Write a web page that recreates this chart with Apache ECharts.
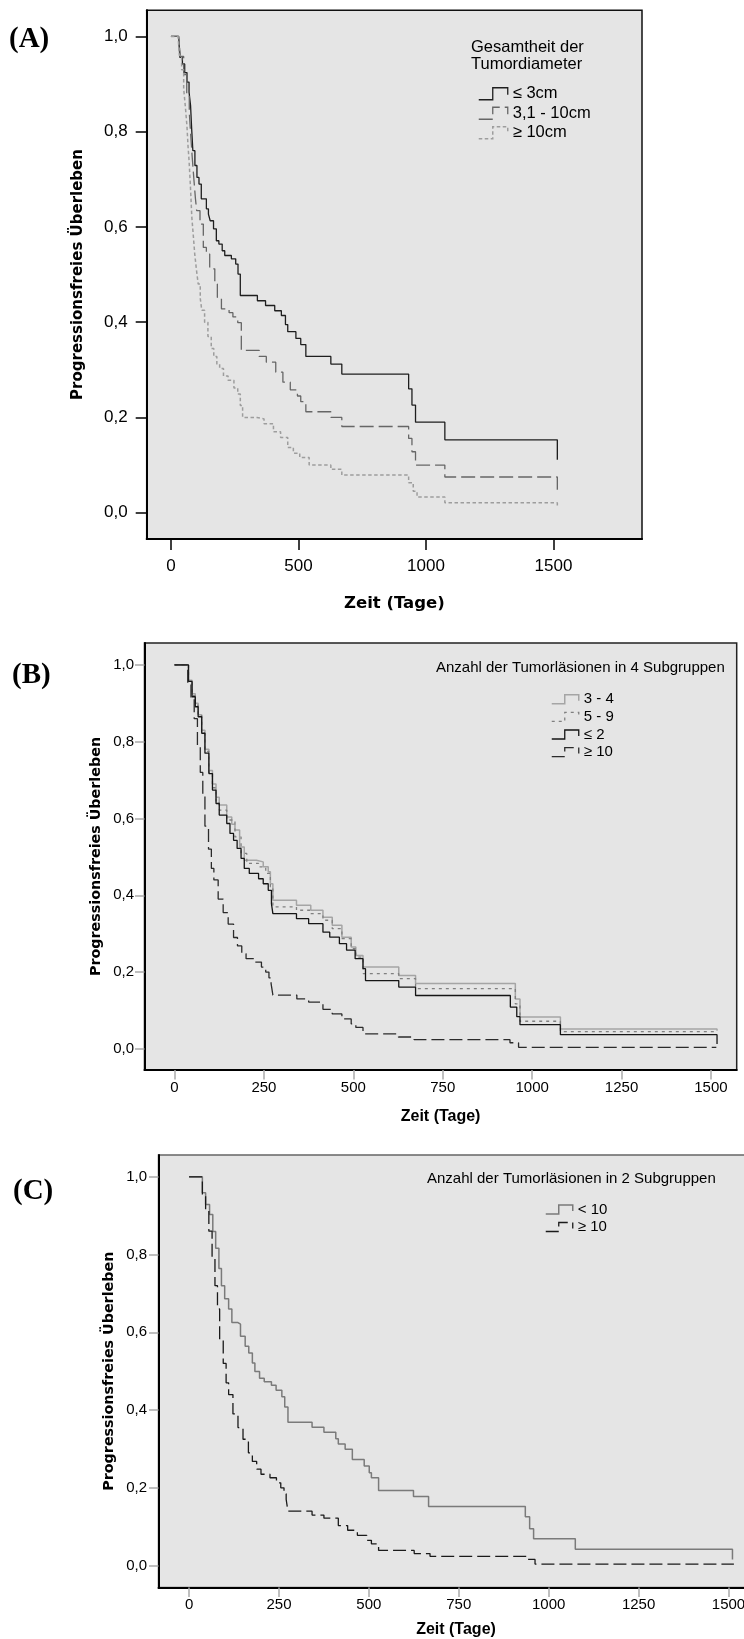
<!DOCTYPE html>
<html>
<head>
<meta charset="utf-8">
<script src="https://cdn.jsdelivr.net/npm/echarts@6/dist/echarts.min.js"></script>
<style>
  html, body { margin: 0; padding: 0; background: #fff; }
  #wrap { position: relative; width: 744px; height: 1639px; }
  .panel { position: absolute; left: 0; width: 744px; }
</style>
</head>
<body>
<div id="wrap">
  <div id="panel-a" class="panel" style="top:0;height:615px"></div>
  <div id="panel-b" class="panel" style="top:615px;height:515px"></div>
  <div id="panel-c" class="panel" style="top:1130px;height:509px"></div>
</div>
<script>
// tick values
const tageTicksGrob = [0, 500, 1000, 1500]
const tageTicksFein = [0, 250, 500, 750, 1000, 1250, 1500]
const survTicks = [0, 0.2, 0.4, 0.6, 0.8, 1.0]

// (A) Gesamtheit der Tumordiameter: [Tage, Überleben]
const diamBis3 = [[0, 1], [30, 1], [35, 0.956], [45, 0.942], [54, 0.924], [63, 0.904], [71, 0.883], [77, 0.855],
  [81, 0.809], [86, 0.76], [94, 0.729], [102, 0.704], [110, 0.69], [119, 0.659], [139, 0.638], [147, 0.627],
  [154, 0.613], [167, 0.596], [178, 0.571], [188, 0.564], [201, 0.55], [211, 0.54], [237, 0.533], [254, 0.522],
  [263, 0.501], [272, 0.456], [339, 0.445], [371, 0.435], [407, 0.424], [433, 0.414], [449, 0.395], [458, 0.38],
  [490, 0.366], [509, 0.353], [529, 0.328], [627, 0.312], [670, 0.291], [932, 0.26], [945, 0.226], [959, 0.19],
  [1074, 0.153], [1515, 0.111]]
const diam3bis10 = [[0, 1], [30, 1], [37, 0.958], [50, 0.92], [62, 0.88], [72, 0.84], [78, 0.79], [83, 0.75],
  [90, 0.7], [96, 0.66], [101, 0.634], [114, 0.606], [127, 0.557], [139, 0.543], [152, 0.512], [172, 0.48],
  [182, 0.452], [198, 0.428], [228, 0.42], [243, 0.411], [262, 0.399], [276, 0.341], [346, 0.328], [374, 0.316],
  [411, 0.295], [439, 0.274], [468, 0.258], [496, 0.245], [509, 0.233], [529, 0.212], [627, 0.2], [670, 0.181],
  [932, 0.156], [945, 0.128], [959, 0.1], [1074, 0.075], [1515, 0.047]]
const diamAb10 = [[0, 1], [28, 1], [33, 0.96], [42, 0.93], [50, 0.89], [57, 0.85], [63, 0.81], [67, 0.77],
  [71, 0.74], [76, 0.69], [82, 0.62], [88, 0.58], [93, 0.545], [100, 0.51], [107, 0.48], [115, 0.45],
  [121, 0.425], [132, 0.4], [145, 0.37], [158, 0.345], [168, 0.328], [180, 0.312], [191, 0.303], [206, 0.287],
  [224, 0.278], [247, 0.262], [262, 0.249], [272, 0.225], [281, 0.2], [337, 0.197], [365, 0.187], [402, 0.17],
  [430, 0.158], [458, 0.137], [480, 0.125], [505, 0.116], [542, 0.1], [627, 0.091], [670, 0.079], [932, 0.063],
  [950, 0.045], [965, 0.033], [1074, 0.021], [1515, 0.013]]

// (B) / (C) Anzahl der Tumorläsionen
const lasion3bis4 = [[0, 1], [28, 1], [39, 0.96], [49, 0.925], [58, 0.9], [66, 0.87], [76, 0.83], [85, 0.78],
  [96, 0.725], [106, 0.69], [116, 0.655], [125, 0.635], [146, 0.604], [160, 0.585], [169, 0.57], [182, 0.526],
  [195, 0.491], [229, 0.487], [248, 0.474], [262, 0.461], [268, 0.43], [275, 0.387], [341, 0.374], [381, 0.361],
  [415, 0.343], [441, 0.322], [468, 0.291], [494, 0.265], [507, 0.243], [527, 0.213], [627, 0.191], [674, 0.17],
  [953, 0.13], [966, 0.083], [1079, 0.052], [1517, 0.047]]
const lasion5bis9 = [[0, 1], [28, 1], [39, 0.955], [49, 0.92], [58, 0.895], [66, 0.868], [76, 0.826], [85, 0.775],
  [96, 0.72], [106, 0.68], [116, 0.645], [125, 0.622], [146, 0.596], [169, 0.552], [186, 0.509], [202, 0.483],
  [235, 0.474], [255, 0.457], [268, 0.422], [275, 0.37], [341, 0.361], [381, 0.352], [415, 0.335], [441, 0.313],
  [468, 0.287], [494, 0.261], [507, 0.239], [527, 0.196], [627, 0.183], [674, 0.157], [953, 0.117], [966, 0.072],
  [1079, 0.045], [1517, 0.044]]
const lasionBis2 = [[0, 1], [28, 1], [39, 0.957], [49, 0.917], [58, 0.891], [66, 0.865], [76, 0.822], [85, 0.77],
  [96, 0.717], [106, 0.674], [116, 0.639], [125, 0.609], [146, 0.587], [155, 0.561], [165, 0.543], [175, 0.522],
  [186, 0.496], [195, 0.47], [209, 0.457], [235, 0.443], [248, 0.43], [262, 0.413], [271, 0.378], [275, 0.352],
  [341, 0.339], [375, 0.326], [415, 0.304], [434, 0.291], [461, 0.274], [481, 0.257], [505, 0.235], [527, 0.209],
  [534, 0.178], [627, 0.161], [674, 0.139], [939, 0.109], [957, 0.084], [966, 0.063], [1079, 0.037], [1517, 0.013]]
const lasionAb10 = [[0, 1], [30, 1], [37, 0.95], [46, 0.915], [55, 0.86], [64, 0.79], [72, 0.72], [79, 0.66],
  [85, 0.58], [95, 0.52], [103, 0.47], [110, 0.44], [122, 0.39], [136, 0.355], [150, 0.325], [165, 0.29],
  [176, 0.268], [188, 0.248], [200, 0.235], [225, 0.226], [243, 0.213], [255, 0.2], [264, 0.185], [270, 0.17],
  [275, 0.14], [342, 0.13], [375, 0.122], [415, 0.103], [441, 0.091], [468, 0.078], [494, 0.065], [507, 0.056],
  [527, 0.039], [626, 0.031], [670, 0.024], [938, 0.016], [962, 0.004], [1515, 0.003]]
const lasionUnter10 = [[0, 1], [30, 1], [37, 0.959], [46, 0.929], [57, 0.903], [66, 0.859], [74, 0.816], [83, 0.764],
  [90, 0.72], [99, 0.686], [110, 0.66], [119, 0.625], [136, 0.621], [143, 0.59], [156, 0.564], [166, 0.547],
  [176, 0.521], [183, 0.499], [196, 0.482], [209, 0.473], [229, 0.464], [242, 0.451], [258, 0.434], [266, 0.408],
  [275, 0.369], [342, 0.356], [375, 0.343], [408, 0.326], [415, 0.313], [434, 0.299], [454, 0.273], [487, 0.256],
  [501, 0.239], [507, 0.226], [527, 0.193], [624, 0.178], [666, 0.152], [935, 0.126], [947, 0.095], [958, 0.069],
  [1074, 0.042], [1511, 0.016]]

const SANS = 'Liberation Sans'
const BOLD = 'DejaVu Sans'

function drawPanel(id, p) {
  const chart = echarts.init(document.getElementById(id))
  chart.setOption({
    animation: false,
    grid: {
      left: p.grid[0], top: p.grid[1], right: p.grid[2], bottom: p.grid[3],
      show: true,
      backgroundColor: '#e5e5e5',
      borderColor: p.borderColor,
      borderWidth: 1.5,
      outerBoundsMode: 'none',
    },
    xAxis: {
      type: 'value',
      min: p.xRange[0],
      max: p.xRange[1],
      axisLine: { show: true, onZero: false, lineStyle: { color: '#000', width: 2 } },
      axisTick: { show: true, customValues: p.xTicks, length: p.tickLen, lineStyle: { color: p.tickColor, width: 1.5 } },
      axisLabel: {
        customValues: p.xTicks,
        margin: p.xMargin,
        fontSize: p.labelSize,
        fontFamily: SANS,
        color: '#000',
        formatter: (v) => String(v),
      },
      splitLine: { show: false },
    },
    yAxis: {
      type: 'value',
      min: p.yRange[0],
      max: p.yRange[1],
      axisLine: { show: true, onZero: false, lineStyle: { color: '#000', width: 2 } },
      axisTick: { show: true, customValues: survTicks, length: p.tickLen, lineStyle: { color: p.tickColor, width: 1.5 } },
      axisLabel: {
        customValues: survTicks,
        margin: p.yMargin,
        fontSize: p.labelSize,
        fontFamily: SANS,
        color: '#000',
        formatter: (v) => v.toFixed(1).replace('.', ','),
      },
      splitLine: { show: false },
    },
    legend: {
      orient: 'vertical',
      left: p.legend.left,
      top: p.legend.top,
      itemWidth: p.legend.iconW,
      itemHeight: p.legend.iconH,
      itemGap: 0,
      selectedMode: false,
      textStyle: { fontSize: p.legend.size, fontFamily: SANS, color: '#000', lineHeight: p.legend.row },
      data: p.series.map((s) => ({
        name: s.name,
        icon: p.legend.icon,
        itemStyle: { color: 'transparent', borderColor: s.color, borderWidth: s.width, borderType: s.dash },
      })),
    },
    graphic: [
      {
        type: 'text', x: p.tag[0], y: p.tag[1],
        style: { text: p.tag[2], fontSize: 29, fontWeight: 'bold', fontFamily: 'Liberation Serif', fill: '#000', align: 'left', verticalAlign: 'middle' },
      },
      {
        type: 'text', x: p.legendTitle[0], y: p.legendTitle[1],
        style: { text: p.legendTitle[2], fontSize: p.legendTitle[3], lineHeight: p.legendTitle[4], fontFamily: SANS, fill: '#000', align: 'left', verticalAlign: 'top' },
      },
      {
        type: 'text', x: p.yName[0], y: p.yName[1], rotation: Math.PI / 2,
        style: { text: 'Progressionsfreies Überleben', fontSize: p.yName[2], fontWeight: 'bold', fontFamily: BOLD, fill: '#000', align: 'center', verticalAlign: 'middle' },
      },
      {
        type: 'text', x: p.xName[0], y: p.xName[1],
        style: { text: 'Zeit (Tage)', fontSize: p.xName[2], fontWeight: 'bold', fontFamily: p.xName[3], fill: '#000', align: 'center', verticalAlign: 'middle' },
      },
    ],
    series: p.series.map((s) => ({
      name: s.name,
      type: 'line',
      step: 'end',
      data: s.data,
      symbol: 'none',
      silent: true,
      lineStyle: { color: s.color, width: s.width, type: s.dash },
    })),
  })
}

drawPanel('panel-a', {
  grid: [146.7, 10.2, 102, 76.1],
  xRange: [-95, 1847],
  yRange: [-0.055, 1.055],
  xTicks: tageTicksGrob,
  tickLen: 11,
  tickColor: '#000',
  labelSize: 17,
  xMargin: 19,
  yMargin: 19,
  borderColor: '#111',
  tag: [9, 40, '(A)'],
  legendTitle: [471, 38.5, 'Gesamtheit der\nTumordiameter', 16.5, 17],
  legend: { left: 473, top: 79, iconW: 29, iconH: 12, size: 16.5, row: 19.5, icon: 'path://M0,12L14,12L14,0L29,0L29,7' },
  yName: [78.6, 274.5, 15],
  xName: [394.4, 603.7, 16.5, BOLD],
  series: [
    { name: '≤ 3cm', data: diamBis3, color: '#1e1e1e', width: 1.3, dash: 'solid' },
    { name: '3,1 - 10cm', data: diam3bis10, color: '#666', width: 1.3, dash: [14, 5] },
    { name: '≥ 10cm', data: diamAb10, color: '#9d9d9d', width: 1.5, dash: [3.5, 2.5] },
  ],
})

drawPanel('panel-b', {
  grid: [144.5, 28, 7.3, 60],
  xRange: [-84, 1572],
  yRange: [-0.055, 1.057],
  xTicks: tageTicksFein,
  tickLen: 9.5,
  tickColor: '#aaa',
  labelSize: 15,
  xMargin: 10,
  yMargin: 10.5,
  borderColor: '#222',
  tag: [12, 61, '(B)'],
  legendTitle: [436, 45, 'Anzahl der Tumorläsionen in 4 Subgruppen', 15, 16],
  legend: { left: 546, top: 70.5, iconW: 27, iconH: 9, size: 15, row: 17.6, icon: 'path://M0,9L13,9L13,0L27,0L27,6' },
  yName: [96, 241.5, 14.3],
  xName: [440.6, 502, 16, SANS],
  series: [
    { name: '3 - 4', data: lasion3bis4, color: '#a5a5a5', width: 1.5, dash: 'solid' },
    { name: '5 - 9', data: lasion5bis9, color: '#808080', width: 1.3, dash: [3, 4] },
    { name: '≤ 2', data: lasionBis2, color: '#151515', width: 1.3, dash: 'solid' },
    { name: '≥ 10', data: lasionAb10, color: '#2b2b2b', width: 1.3, dash: [13, 5] },
  ],
})

drawPanel('panel-c', {
  grid: [158.5, 25, -10.4, 51.6],
  xRange: [-85, 1572],
  yRange: [-0.056, 1.056],
  xTicks: tageTicksFein,
  tickLen: 9.5,
  tickColor: '#aaa',
  labelSize: 15,
  xMargin: 10,
  yMargin: 11.5,
  borderColor: '#666',
  tag: [13, 61.7, '(C)'],
  legendTitle: [427, 41, 'Anzahl der Tumorläsionen in 2 Subgruppen', 15, 16],
  legend: { left: 540, top: 65.6, iconW: 27, iconH: 9, size: 15, row: 17.6, icon: 'path://M0,9L13,9L13,0L27,0L27,6' },
  yName: [109.5, 241.2, 14.3],
  xName: [456, 500, 16, SANS],
  series: [
    { name: '< 10', data: lasionUnter10, color: '#7a7a7a', width: 1.5, dash: 'solid' },
    { name: '≥ 10', data: lasionAb10, color: '#1a1a1a', width: 1.3, dash: [13, 5] },
  ],
})
</script>
</body>
</html>
